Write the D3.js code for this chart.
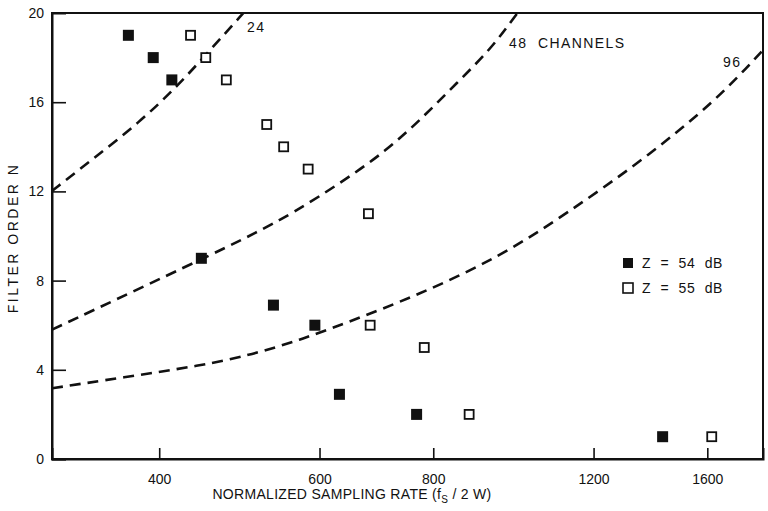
<!DOCTYPE html>
<html>
<head>
<meta charset="utf-8">
<script src="https://cdn.jsdelivr.net/npm/d3@7/dist/d3.min.js"></script>
<style>
  body { margin: 0; background: #fff; }
  text { font-family: "Liberation Sans", Arial, sans-serif; fill: #111; white-space: pre; }
</style>
</head>
<body>
<div id="chart"></div>
<script>
// sampling rate (fs/2W) vs filter order N
const xTicks = [400, 600, 800, 1200, 1600];
const yTicks = [0, 4, 8, 12, 16, 20];

const z54 = [[370, 19], [394, 18], [413, 17], [445, 9], [534, 6.9], [593, 6], [631, 2.9], [767, 2], [1429, 1]];
const z55 = [[433, 19], [450, 18], [474, 17], [525, 15], [548, 14], [583, 13], [679, 11], [682, 6], [782, 5], [876, 2], [1618, 1]];

const ch24 = [[305, 12.02], [336, 13.36], [381, 15.11], [420, 16.77], [455, 18.34], [495, 20], [510, 20.6]];
const ch48 = [[305, 5.8], [463, 9.28], [510, 10.13], [561, 11.03], [633, 12.38], [710, 13.81], [778, 15.29], [849, 16.86], [928, 18.43], [989, 20], [1022, 20.7]];
const ch96 = [[305, 3.17], [365, 3.66], [444, 4.18], [507, 4.69], [571, 5.34], [637, 6.05], [770, 7.35], [947, 9.07], [1122, 11.02], [1360, 13.41], [1639, 16.1], [1842, 18.34]];

const width = 768, height = 511;
const margin = {top: 13, right: 5, bottom: 52, left: 52};

const svg = d3.select("#chart").append("svg")
    .attr("width", width).attr("height", height);

const x = d3.scaleLog().domain([305, 1842]).range([margin.left, width - margin.right]);
const y = d3.scaleLinear().domain([0, 20]).range([height - margin.bottom, margin.top]);

svg.append("clipPath").attr("id", "plot")
  .append("rect")
    .attr("x", margin.left).attr("y", margin.top)
    .attr("width", width - margin.left - margin.right)
    .attr("height", height - margin.top - margin.bottom);

// frame
svg.append("rect")
    .attr("x", margin.left).attr("y", margin.top)
    .attr("width", width - margin.left - margin.right)
    .attr("height", height - margin.top - margin.bottom)
    .attr("fill", "none").attr("stroke", "#111").attr("stroke-width", 2);

// axes, ticks inward
const gx = svg.append("g")
    .attr("transform", `translate(0,${height - margin.bottom})`)
    .call(d3.axisBottom(x).tickValues(xTicks).tickFormat(d3.format("d")).tickSize(-11).tickPadding(15));
const gy = svg.append("g")
    .attr("transform", `translate(${margin.left},0)`)
    .call(d3.axisLeft(y).tickValues(yTicks).tickSize(-14).tickPadding(8));

[gx, gy].forEach(g => {
  g.select(".domain").attr("stroke", "#111").attr("stroke-width", 2);
  g.selectAll(".tick line").attr("stroke", "#111").attr("stroke-width", 1.6);
  g.selectAll(".tick text").style("font-size", "14px").style("font-family", "Liberation Sans, Arial, sans-serif").attr("fill", "#111");
});
gy.selectAll(".tick").filter(d => d === 20).select("line").remove();

// dashed channel curves
const line = d3.line()
    .x(d => x(d[0])).y(d => y(d[1]))
    .curve(d3.curveBasis);

svg.append("g").attr("clip-path", "url(#plot)")
  .selectAll("path").data([ch24, ch48, ch96]).join("path")
    .attr("d", line)
    .attr("fill", "none").attr("stroke", "#111")
    .attr("stroke-width", 2.6).attr("stroke-dasharray", "11,7");

// markers
svg.append("g").selectAll("rect").data(z54).join("rect")
    .attr("x", d => x(d[0]) - 5.5).attr("y", d => y(d[1]) - 5.5)
    .attr("width", 11).attr("height", 11).attr("fill", "#111");

svg.append("g").selectAll("rect").data(z55).join("rect")
    .attr("x", d => x(d[0]) - 4.5).attr("y", d => y(d[1]) - 4.5)
    .attr("width", 9).attr("height", 9)
    .attr("fill", "#fff").attr("stroke", "#111").attr("stroke-width", 1.8);

// curve labels
const labels = [["24", 247, 32], ["48  CHANNELS", 509, 48], ["96", 723, 67]];
svg.append("g").selectAll("text").data(labels).join("text")
    .attr("x", d => d[1]).attr("y", d => d[2])
    .style("font-size", "14px").style("letter-spacing", "1.4px")
    .text(d => d[0]);

// legend
const legend = [["Z  =  54  dB", true], ["Z  =  55  dB", false]];
const lg = svg.append("g").selectAll("g").data(legend).join("g")
    .attr("transform", (d, i) => `translate(628,${263 + i * 25})`);
lg.append("rect")
    .attr("x", -5).attr("y", -5).attr("width", 10).attr("height", 10)
    .attr("fill", d => d[1] ? "#111" : "#fff")
    .attr("stroke", "#111").attr("stroke-width", d => d[1] ? 0 : 1.6);
lg.append("text")
    .attr("x", 14).attr("dy", "0.36em")
    .style("font-size", "14px").style("letter-spacing", "0.7px")
    .text(d => d[0]);

// axis titles
const xt = svg.append("text")
    .attr("x", 352).attr("y", 499)
    .attr("text-anchor", "middle")
    .style("font-size", "14px").style("letter-spacing", "0.3px");
xt.append("tspan").text("NORMALIZED SAMPLING RATE (f");
xt.append("tspan").attr("dy", 4).style("font-size", "10px").text("S");
xt.append("tspan").attr("dy", -4).text(" / 2 W)");

svg.append("text")
    .attr("transform", "translate(18,238) rotate(-90)")
    .attr("text-anchor", "middle")
    .style("font-size", "14px").style("letter-spacing", "2.5px")
    .text("FILTER ORDER N");
</script>
</body>
</html>
